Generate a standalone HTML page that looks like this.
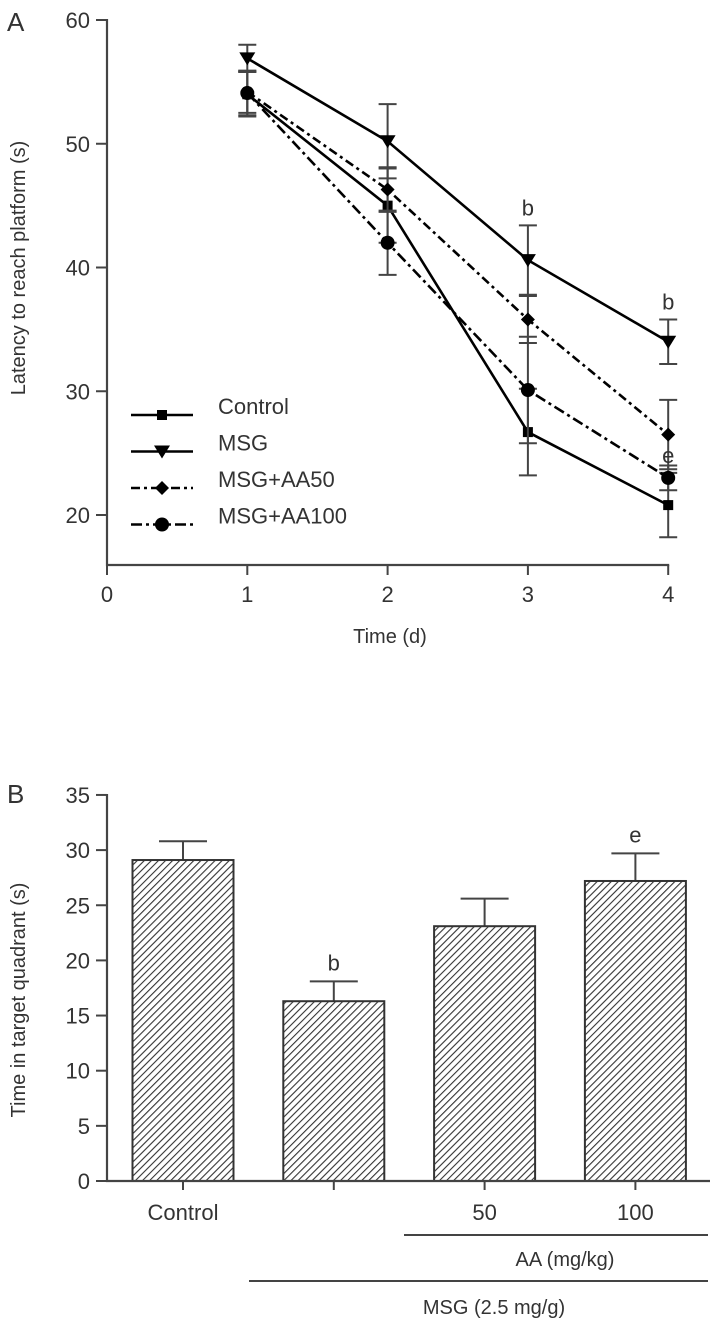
<!DOCTYPE html>
<html><head><meta charset="utf-8">
<style>
body{margin:0;background:#fff;}
svg{display:block;font-family:"Liberation Sans",Arial,sans-serif;}
text{fill:#333;}
</style></head>
<body>
<svg id="fig" width="714" height="1321" viewBox="0 0 714 1321" xmlns="http://www.w3.org/2000/svg">
<defs>
<pattern id="hatch" patternUnits="userSpaceOnUse" width="5" height="5" patternTransform="rotate(45)">
<rect width="5" height="5" fill="#fff"/>
<line x1="0" y1="0" x2="0" y2="5" stroke="#333" stroke-width="2.2"/>
</pattern>
</defs>
<g id="panelA"></g>
<g id="panelB"></g>
</svg>
<script>
// ---------- Panel A data ----------
const daysA = [1, 2, 3, 4];
const xTicksA = [0, 1, 2, 3, 4];
const yTicksA = [20, 30, 40, 50, 60];
const seriesNames = ["Control", "MSG", "MSG+AA50", "MSG+AA100"];
const controlVals = [54.0, 45.0, 26.7, 20.8];
const controlErr = [1.8, 3.0, 3.5, 2.6];
const msgVals = [56.9, 50.2, 40.6, 34.0];
const msgErr = [1.1, 3.0, 2.8, 1.8];
const aa50Vals = [54.2, 46.3, 35.8, 26.5];
const aa50Err = [1.7, 1.8, 1.9, 2.8];
const aa100Vals = [54.1, 42.0, 30.1, 23.0];
const aa100Err = [1.8, 2.6, 4.3, 1.0];
const sigA = [{s:1,i:2,t:"b"},{s:1,i:3,t:"b"},{s:3,i:3,t:"e"}];

// ---------- Panel B data ----------
const groupsB = ["Control", "MSG", "50", "100"];
const tickLabelsB = ["Control", "", "50", "100"];
const barVals = [29.1, 16.3, 23.1, 27.2];
const barErr = [1.7, 1.8, 2.5, 2.5];
const yTicksB = [0, 5, 10, 15, 20, 25, 30, 35];
const sigB = [{i:1,t:"b"},{i:3,t:"e"}];

const NS = "http://www.w3.org/2000/svg";
function mk(parent, tag, attrs, txt){
  const e = document.createElementNS(NS, tag);
  for (const k in attrs) e.setAttribute(k, attrs[k]);
  if (txt !== undefined) e.textContent = txt;
  parent.appendChild(e);
  return e;
}

// ---------- Panel A ----------
(function(){
  const g = document.getElementById('panelA');
  const xA = v => 107 + v * 140.3;
  const yA = v => 20 + (60 - v) * 12.375;
  const axisY = 565;
  let t = mk(g, 'text', {x:7, y:31, 'font-size':26});
  t.textContent = 'A';
  
  
  let ax = mk(g, 'path', {d:`M${xA(0)} ${yA(60)-1} V${axisY} H${xA(4)+1}`, fill:'none', stroke:'#444', 'stroke-width':2.2});
  
  
  yTicksA.forEach(v => {
    mk(g, 'line', {x1:96, x2:107, y1:yA(v), y2:yA(v), stroke:'#444', 'stroke-width':2});
    const l = mk(g, 'text', {x:90, y:yA(v)+8, 'font-size':22, 'text-anchor':'end'}, String(v));
    
    
  });
  xTicksA.forEach(v => {
    mk(g, 'line', {x1:xA(v), x2:xA(v), y1:axisY, y2:axisY+10, stroke:'#444', 'stroke-width':2});
    const l = mk(g, 'text', {x:xA(v), y:axisY+37, 'font-size':22, 'text-anchor':'middle'}, String(v));
    
    
  });
  let xt = mk(g, 'text', {x:390, y:643, 'font-size':20, 'text-anchor':'middle'}, 'Time (d)');
  
  
  let yt = mk(g, 'text', {x:0, y:0, 'font-size':20, 'text-anchor':'middle', transform:'translate(25,268) rotate(-90)'}, 'Latency to reach platform (s)');
  
  

  const vals = [controlVals, msgVals, aa50Vals, aa100Vals];
  const errs = [controlErr, msgErr, aa50Err, aa100Err];
  const dashes = ['none', 'none', '9,4,3,4', '11,4,3,4'];
  const marker = (p, s, cx, cy) => {
    let m;
    if (s === 0) m = mk(p, 'rect', {x:cx-5, y:cy-5, width:10, height:10, fill:'#000'});
    else if (s === 1) m = mk(p, 'path', {d:`M${cx-8} ${cy-6} L${cx+8} ${cy-6} L${cx} ${cy+7}Z`, fill:'#000'});
    else if (s === 2) m = mk(p, 'path', {d:`M${cx} ${cy-7} L${cx+7} ${cy} L${cx} ${cy+7} L${cx-7} ${cy}Z`, fill:'#000'});
    else m = mk(p, 'circle', {cx:cx, cy:cy, r:7, fill:'#000'});
    return m;
  };
  vals.forEach((arr, s) => {
    const sg = mk(g, 'g', {});
    
    
    arr.forEach((v, i) => {
      const cx = xA(daysA[i]);
      const y1 = yA(v + errs[s][i]), y2 = yA(v - errs[s][i]);
      mk(sg, 'line', {x1:cx, x2:cx, y1:y1, y2:y2, stroke:'#444', 'stroke-width':2});
      mk(sg, 'line', {x1:cx-9, x2:cx+9, y1:y1, y2:y1, stroke:'#444', 'stroke-width':2});
      mk(sg, 'line', {x1:cx-9, x2:cx+9, y1:y2, y2:y2, stroke:'#444', 'stroke-width':2});
    });
    const d = arr.map((v, i) => (i ? 'L' : 'M') + xA(daysA[i]) + ' ' + yA(v)).join(' ');
    const ln = mk(sg, 'path', {d:d, fill:'none', stroke:'#000', 'stroke-width':2.6, 'stroke-dasharray':dashes[s]});
    
    
    arr.forEach((v, i) => {
      const m = marker(sg, s, xA(daysA[i]), yA(v));
      
      
    });
    const ly = 415 + s * 36.5;
    const le = mk(g, 'g', {});
    
    
    mk(le, 'line', {x1:131, x2:193, y1:ly, y2:ly, stroke:'#000', 'stroke-width':2.6, 'stroke-dasharray':dashes[s]});
    marker(le, s, 162, ly);
    mk(le, 'text', {x:218, y:ly - 1, 'font-size':22}, seriesNames[s]);
  });
  sigA.forEach(o => {
    const arr = vals[o.s], e = errs[o.s];
    const ty = o.t === 'e' ? yA(arr[o.i]) - 15 : yA(arr[o.i] + e[o.i]) - 10;
    const st = mk(g, 'text', {x:xA(daysA[o.i]), y:ty, 'font-size':22, 'text-anchor':'middle'}, o.t);
    
    
  });
})();

// ---------- Panel B ----------
(function(){
  const g = document.getElementById('panelB');
  const yB = v => 1181 - v * 11.03;
  const barX = i => 183 + i * 150.8;
  const bw = 101;
  let t = mk(g, 'text', {x:7, y:803, 'font-size':26}, 'B');
  
  
  barVals.forEach((v, i) => {
    const cx = barX(i);
    const top = yB(v), cap = yB(v + barErr[i]);
    mk(g, 'line', {x1:cx, x2:cx, y1:top, y2:cap, stroke:'#444', 'stroke-width':2});
    mk(g, 'line', {x1:cx-24, x2:cx+24, y1:cap, y2:cap, stroke:'#444', 'stroke-width':2});
    const r = mk(g, 'rect', {x:cx - bw/2, y:top, width:bw, height:yB(0) - top, fill:'url(#hatch)', stroke:'#333', 'stroke-width':2});
    
    
    mk(g, 'line', {x1:cx, x2:cx, y1:yB(0), y2:yB(0)+9, stroke:'#444', 'stroke-width':2});
    if (tickLabelsB[i]) {
      const l = mk(g, 'text', {x:cx, y:1220, 'font-size':22, 'text-anchor':'middle'}, tickLabelsB[i]);
      
      
    }
  });
  let ax = mk(g, 'path', {d:`M107 ${yB(35)-1} V${yB(0)} H710`, fill:'none', stroke:'#444', 'stroke-width':2.2});
  
  
  yTicksB.forEach(v => {
    mk(g, 'line', {x1:96, x2:107, y1:yB(v), y2:yB(v), stroke:'#444', 'stroke-width':2});
    const l = mk(g, 'text', {x:90, y:yB(v)+8, 'font-size':22, 'text-anchor':'end'}, String(v));
    
    
  });
  sigB.forEach(o => {
    const st = mk(g, 'text', {x:barX(o.i), y:yB(barVals[o.i] + barErr[o.i]) - 11, 'font-size':22, 'text-anchor':'middle'}, o.t);
    
    
  });
  let yt = mk(g, 'text', {x:0, y:0, 'font-size':20, 'text-anchor':'middle', transform:'translate(25,1000) rotate(-90)'}, 'Time in target quadrant (s)');
  
  
  let l1 = mk(g, 'line', {x1:404, x2:708, y1:1235, y2:1235, stroke:'#444', 'stroke-width':2});
  
  
  let t1 = mk(g, 'text', {x:565, y:1266, 'font-size':20, 'text-anchor':'middle'}, 'AA (mg/kg)');
  
  
  let l2 = mk(g, 'line', {x1:249, x2:708, y1:1281, y2:1281, stroke:'#444', 'stroke-width':2});
  
  
  let t2 = mk(g, 'text', {x:494, y:1314, 'font-size':20, 'text-anchor':'middle'}, 'MSG (2.5 mg/g)');
  
  
})();
</script>
</body></html>
